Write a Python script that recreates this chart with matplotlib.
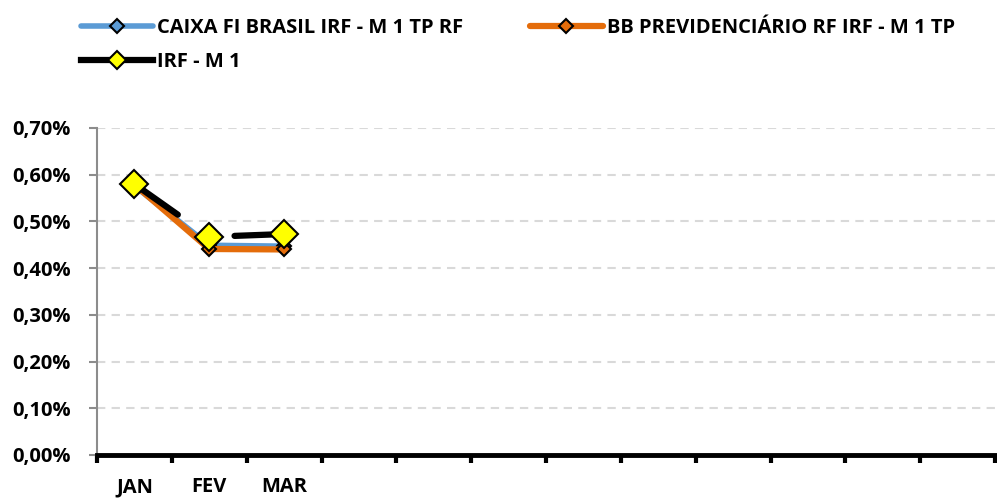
import matplotlib
matplotlib.use("Agg")
import matplotlib.pyplot as plt
from matplotlib.ticker import FuncFormatter, FixedLocator

plt.rcParams['font.family'] = ['Open Sans', 'DejaVu Sans']
plt.rcParams['font.weight'] = 'bold'

# data (values in %)
months = ['JAN', 'FEV', 'MAR', '', '', '', '', '', '', '', '', '']
caixa = [0.576, 0.449, 0.447]
bb = [0.579, 0.441, 0.440]
irf = [0.580, 0.467, 0.473]

names = ['CAIXA FI BRASIL IRF - M 1 TP RF', 'BB PREVIDENCIÁRIO RF IRF - M 1 TP', 'IRF - M 1']

fig = plt.figure(figsize=(9.97, 4.99), dpi=100)
ax = fig.add_axes([0.0973, 0.0882, 0.9007, 0.6553])

x = list(range(len(caixa)))
l1, = ax.plot(x, caixa, color='#5b9bd5', lw=4, solid_capstyle='round',
              marker='D', ms=7, markerfacecolor='#5b9bd5', markeredgecolor='black', mew=1.5,
              zorder=3)
l2, = ax.plot(x, bb, color='#e46c0a', lw=4.5, solid_capstyle='round',
              marker='D', ms=7, markerfacecolor='#e46c0a', markeredgecolor='black', mew=1.5,
              zorder=4)
l3, = ax.plot(x, irf, color='black', lw=4.5, dash_capstyle='round',
              dashes=(8.5, 10.2), marker='D', ms=14, markerfacecolor='#ffff00',
              markeredgecolor='black', mew=1.5, zorder=5)

ax.set_xlim(-0.5, len(months) - 0.5)
ax.set_ylim(0, 0.70)

fs = 14.5

# y axis
ax.yaxis.set_major_locator(FixedLocator([i * 0.1 for i in range(8)]))
ax.yaxis.set_major_formatter(FuncFormatter(lambda v, p: ('%.2f%%' % v).replace('.', ',')))
ax.tick_params(axis='y', length=6, width=1.5, color='#8c8c8c', labelsize=fs, pad=13)
ax.grid(axis='y', color='#d9d9d9', lw=1.5, ls=(0, (4, 3)))
ax.set_axisbelow(True)

# x axis: ticks at category borders, labels at centers
ax.xaxis.set_major_locator(FixedLocator([i - 0.5 for i in range(len(months) + 1)]))
ax.xaxis.set_minor_locator(FixedLocator(list(range(len(months)))))
ax.set_xticklabels([''] * (len(months) + 1))
ax.set_xticklabels(months, minor=True)
ax.tick_params(axis='x', which='major', length=6, width=3, color='black')
ax.tick_params(axis='x', which='minor', length=0, labelsize=fs, pad=16)

for s in ['top', 'right']:
    ax.spines[s].set_visible(False)
ax.spines['left'].set_color('#8c8c8c')
ax.spines['left'].set_linewidth(1.5)
ax.spines['bottom'].set_color('black')
ax.spines['bottom'].set_linewidth(3.5)

for t in ax.get_yticklabels() + ax.get_xticklabels(minor=True):
    t.set_fontweight('bold')

# legend filled column-wise, so order gives CAIXA, BB on the first row
leg = fig.legend([l1, l3, l2], [names[0], names[2], names[1]], loc='upper left',
                 bbox_to_anchor=(0.063, 1.001), ncol=2, frameon=False, fontsize=fs,
                 handlelength=3.6, handletextpad=0.2, columnspacing=3.3, labelspacing=0.7)
for t in leg.get_texts():
    t.set_fontweight('bold')
leg.legend_handles[1].set_linestyle('-')
leg.legend_handles[1].set_markersize(9)

fig.savefig('out.png', dpi=100)
